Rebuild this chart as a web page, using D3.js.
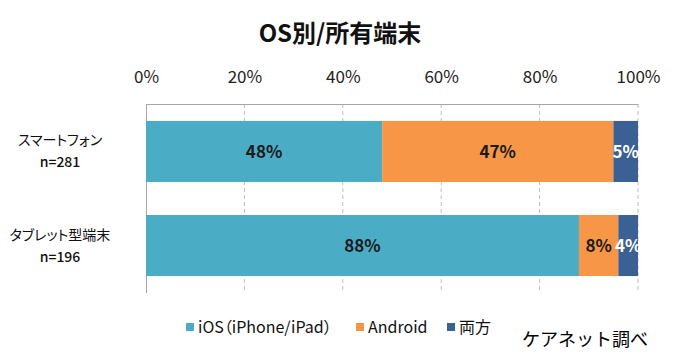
<!DOCTYPE html>
<html>
<head>
<meta charset="utf-8">
<script src="https://cdn.jsdelivr.net/npm/d3@7"></script>
<style>
  html, body { margin: 0; padding: 0; background: #fff; }
  svg { display: block; font-family: "Noto Sans CJK JP", "Noto Sans", sans-serif; }
  .prop { font-feature-settings: "palt"; }
</style>
</head>
<body>
<svg id="chart" width="685" height="364"></svg>
<script>
// Device categories (with sample size) and OS share per device
const categories = ["スマートフォン", "タブレット型端末"];
const sampleSizes = ["n=281", "n=196"];
const seriesNames = ["iOS（iPhone/iPad）", "Android", "両方"];
const seriesColors = ["#4BACC6", "#F79646", "#3B6194"];
const labelColors = ["#1a1a1a", "#1a1a1a", "#ffffff"];
const iosShare = [48, 88];
const androidShare = [47, 8];
const bothShare = [5, 4];
const tickValues = [0, 20, 40, 60, 80, 100];

const svg = d3.select("#chart");
const plot = { left: 146, right: 638, top: 104, bottom: 293 };

const x = d3.scaleLinear().domain([0, 100]).range([plot.left, plot.right]);
const y = d3.scaleBand().domain(categories).range([plot.top, plot.bottom]).paddingInner(0.351).paddingOuter(0.18);

const rows = categories.map((c, i) => ({ cat: c, n: sampleSizes[i], vals: [iosShare[i], androidShare[i], bothShare[i]] }));
const stackData = rows.map(r => { const o = { cat: r.cat }; seriesNames.forEach((s, k) => o[s] = r.vals[k]); return o; });
const stacked = d3.stack().keys(seriesNames)(stackData);

// Title
svg.append("text").attr("x", 340).attr("y", 42).attr("text-anchor", "middle")
  .attr("font-size", 24).attr("font-weight", "bold").attr("fill", "#111").text("OS別/所有端末");

// Gridlines (dashed)
svg.append("g").selectAll("line").data(tickValues.filter(t => t > 0)).join("line")
  .attr("x1", d => x(d)).attr("x2", d => x(d))
  .attr("y1", plot.top).attr("y2", plot.bottom)
  .attr("stroke", "#bdbdbd").attr("stroke-width", 1).attr("stroke-dasharray", "4,3");

// Value axis along the top
const xAxis = d3.axisTop(x).tickValues(tickValues).tickFormat(d => d + "%").tickSize(0).tickPadding(21);
const gx = svg.append("g").attr("transform", `translate(0,${plot.top})`).call(xAxis);
gx.select(".domain").attr("stroke", "#a6a6a6");
gx.selectAll("text").attr("font-size", 17).attr("fill", "#222").attr("font-family", "'Noto Sans CJK JP', sans-serif");

// Category axis line on the left
svg.append("line").attr("x1", plot.left + 0.5).attr("x2", plot.left + 0.5)
  .attr("y1", plot.top).attr("y2", plot.bottom).attr("stroke", "#a6a6a6");

// Bars
const layers = svg.append("g").selectAll("g").data(stacked).join("g")
  .attr("fill", (d, i) => seriesColors[i]);
layers.selectAll("rect").data(d => d).join("rect")
  .attr("x", d => x(d[0])).attr("width", d => x(d[1]) - x(d[0]))
  .attr("y", d => y(d.data.cat)).attr("height", y.bandwidth());

// Value labels
stacked.forEach((layer, i) => {
  svg.append("g").selectAll("text").data(layer).join("text")
    .attr("x", d => (x(d[0]) + x(d[1])) / 2)
    .attr("y", d => y(d.data.cat) + y.bandwidth() / 2)
    .attr("dy", "0.36em").attr("text-anchor", "middle")
    .attr("font-size", 17).attr("font-weight", "bold")
    .attr("fill", labelColors[i])
    .text(d => (d[1] - d[0]) + "%");
});

// Category labels
const catLabels = svg.append("g").selectAll("g").data(rows).join("g")
  .attr("transform", r => `translate(60,${y(r.cat) + y.bandwidth() / 2})`);
catLabels.append("text").attr("class", "prop").attr("text-anchor", "middle").attr("y", -6)
  .attr("font-size", 14).attr("fill", "#111").text(r => r.cat);
catLabels.append("text").attr("text-anchor", "middle").attr("y", 16)
  .attr("font-size", 14).attr("font-weight", 500).attr("fill", "#111").text(r => r.n);

// Legend
const legendItems = [
  { name: seriesNames[0], x: 186 },
  { name: seriesNames[1], x: 356 },
  { name: seriesNames[2], x: 447 }
];
const legend = svg.append("g").selectAll("g").data(legendItems).join("g")
  .attr("transform", d => `translate(${d.x},333)`);
legend.append("rect").attr("x", 0).attr("y", -10).attr("width", 8).attr("height", 8)
  .attr("fill", (d, i) => seriesColors[i]);
legend.append("text").attr("class", "prop").attr("x", 12).attr("y", 0)
  .attr("font-size", 16).attr("fill", "#111").text(d => d.name);

// Source note
svg.append("text").attr("x", 522).attr("y", 346).attr("font-size", 18).attr("fill", "#000").text("ケアネット調べ");
</script>
</body>
</html>
